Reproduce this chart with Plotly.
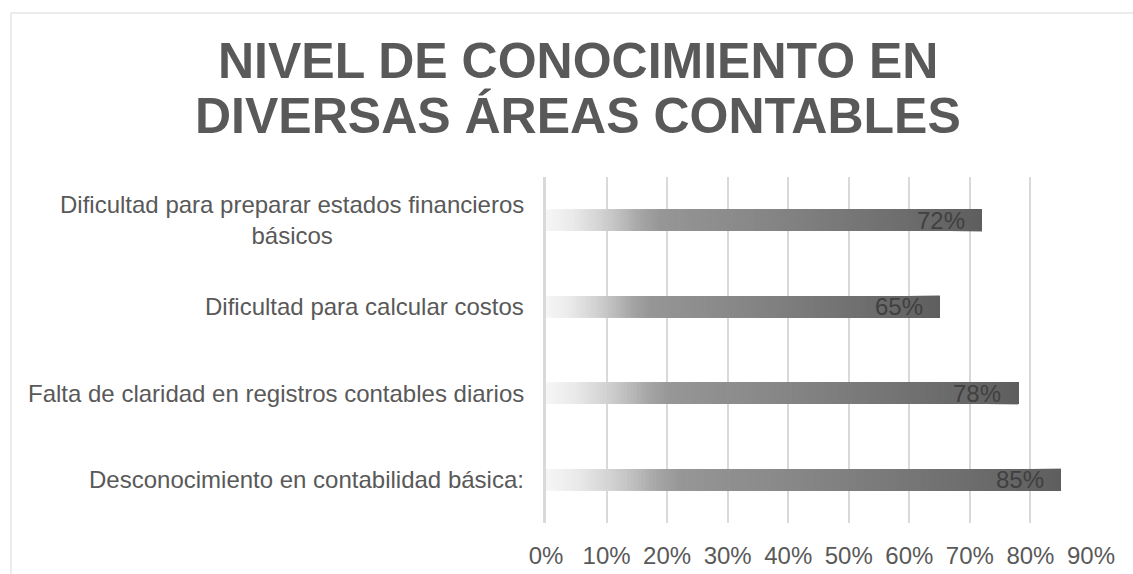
import numpy as np
import plotly.graph_objects as go

# Data (bottom to top as drawn)
categories = [
    "Desconocimiento en contabilidad básica:",
    "Falta de claridad en registros contables diarios",
    "Dificultad para calcular costos",
    "Dificultad para preparar estados financieros<br>básicos",
]
values = [0.85, 0.78, 0.65, 0.72]
tick_vals = [0, 0.1, 0.2, 0.3, 0.4, 0.5, 0.6, 0.7, 0.8, 0.9]
title_lines = ["NIVEL DE CONOCIMIENTO EN", "DIVERSAS ÁREAS CONTABLES"]

# Canvas geometry (pixels)
W, H = 1133, 574
L, R, T, B = 546, 1091, 177, 523

def px_x(px):
    return (px - L) / (R - L)

def px_y(py):
    return (B - py) / (B - T)

FONT = "Liberation Sans, Arial, sans-serif"
TEXT_GRAY = "#595959"

# Horizontal gradient along each bar: white-ish at the base, dark gray at the end
grad_pos = [0.0, 0.06, 0.124, 0.17, 0.216, 0.26, 0.35, 0.445, 0.58, 0.81, 1.0]
grad_lvl = [246, 234, 211, 190, 166, 151, 144, 138, 128, 110, 94]
N = 140

ys, xs, bases, colors = [], [], [], []
for cat, v in zip(categories, values):
    for i in range(N):
        f = i / N
        g = int(round(np.interp(f + 0.5 / N, grad_pos, grad_lvl)))
        ys.append(cat)
        bases.append(v * f)
        xs.append(v - v * f)
        colors.append(f"rgb({g},{g},{g})")

fig = go.Figure()
fig.add_trace(go.Bar(
    y=ys, x=xs, base=bases, orientation="h",
    marker=dict(color=colors, line=dict(width=0)),
    width=0.25, hoverinfo="skip", showlegend=False,
))

annotations = []
# Category labels (centered multi-line, right-aligned to the axis)
for cat in categories:
    annotations.append(dict(
        x=0, xref="paper", y=cat, yref="y", xanchor="right", yanchor="middle",
        xshift=-20, align="center", showarrow=False, text=cat,
        font=dict(family=FONT, size=24, color=TEXT_GRAY),
    ))
# Value labels at the inside end of each bar
for cat, v in zip(categories, values):
    annotations.append(dict(
        x=v, xref="x", y=cat, yref="y", xanchor="right", yanchor="middle",
        xshift=-15, showarrow=False, text=f"{round(v * 100)}%",
        font=dict(family=FONT, size=24, color="#404040"),
    ))
# Title, two lines
for line, cy in zip(title_lines, [61, 116]):
    annotations.append(dict(
        x=px_x(578), xref="paper", y=px_y(cy), yref="paper",
        xanchor="center", yanchor="middle", showarrow=False,
        text=f"<b>{line}</b>",
        font=dict(family=FONT, size=50, color=TEXT_GRAY),
    ))

# Outer chart frame
shapes = [dict(
    type="rect", xref="paper", yref="paper",
    x0=px_x(11), x1=px_x(W + 20), y0=px_y(H + 20), y1=px_y(13),
    line=dict(color="#d9d9d9", width=1), fillcolor="rgba(0,0,0,0)", layer="below",
)]

fig.update_layout(
    width=W, height=H,
    margin=dict(l=L, r=W - R, t=T, b=H - B, autoexpand=False),
    paper_bgcolor="white", plot_bgcolor="white",
    barmode="overlay",
    annotations=annotations, shapes=shapes,
    xaxis=dict(
        range=[0, 0.9], tickvals=tick_vals, tickformat=".0%",
        showgrid=True, gridcolor="#d9d9d9", gridwidth=1.5,
        zeroline=False, showline=False,
        tickfont=dict(family=FONT, size=24, color=TEXT_GRAY),
        ticks="", ticklabelstandoff=16,
        fixedrange=True, automargin=False,
    ),
    yaxis=dict(
        categoryorder="array", categoryarray=categories,
        range=[-0.5, 3.5], showticklabels=False, showgrid=False,
        zeroline=False, showline=True, linecolor="#d9d9d9", linewidth=3,
        ticks="", fixedrange=True, automargin=False,
    ),
)

fig.write_html("out.html", config={"displayModeBar": False})
